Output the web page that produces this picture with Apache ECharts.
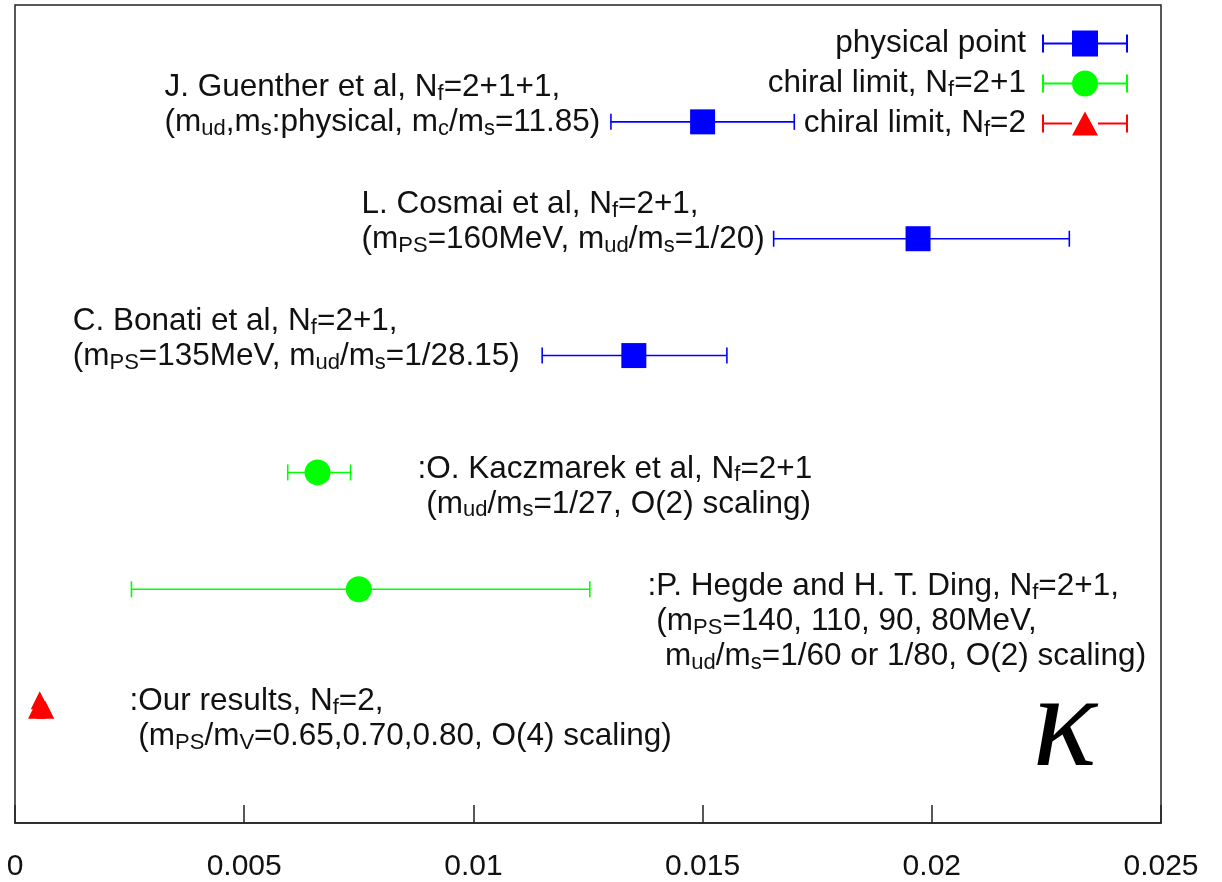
<!DOCTYPE html>
<html>
<head>
<meta charset="utf-8">
<script src="https://cdn.jsdelivr.net/npm/echarts@6/dist/echarts.min.js"></script>
<style>
  html, body { margin: 0; background: #fff; }
  #chart { width: 1222px; height: 882px; }
</style>
</head>
<body>
<div id="chart"></div>
<script>
// x axis ticks
const xTicks = [0, 0.005, 0.01, 0.015, 0.02, 0.025]

// physical point (blue squares): Guenther, Cosmai, Bonati
const physX = [0.0150, 0.0197, 0.0135]
const physLo = [0.0130, 0.01655, 0.0115]
const physHi = [0.0170, 0.0230, 0.01553]
const physRow = [6, 5, 4]

// chiral limit, Nf=2+1 (green circles): Kaczmarek, Hegde
const chi21X = [0.0066, 0.0075]
const chi21Lo = [0.00595, 0.00254]
const chi21Hi = [0.00732, 0.01254]
const chi21Row = [3, 2]

// chiral limit, Nf=2 (red triangles): our results
const chi2X = [0.00048, 0.00054, 0.00060, 0.00066]
const chi2Row = [0.97, 1.05, 1.0, 0.97]

// annotation texts
const noteX = [0.00326, 0.00756, 0.00126, 0.00878, 0.0138, 0.0025]
const noteRow = [6.142, 5.143, 4.145, 2.881, 1.724, 0.888]
const noteText = [
  'J. Guenther et al, N{s|f}=2+1+1,\n(m{s|ud},m{s|s}:physical, m{s|c}/m{s|s}=11.85)',
  'L. Cosmai et al, N{s|f}=2+1,\n(m{s|PS}=160MeV, m{s|ud}/m{s|s}=1/20)',
  'C. Bonati et al, N{s|f}=2+1,\n(m{s|PS}=135MeV, m{s|ud}/m{s|s}=1/28.15)',
  ':O. Kaczmarek et al, N{s|f}=2+1\n (m{s|ud}/m{s|s}=1/27, O(2) scaling)',
  ':P. Hegde and H. T. Ding, N{s|f}=2+1,\n (m{s|PS}=140, 110, 90, 80MeV,\n  m{s|ud}/m{s|s}=1/60 or 1/80, O(2) scaling)',
  ':Our results, N{s|f}=2,\n (m{s|PS}/m{s|V}=0.65,0.70,0.80, O(4) scaling)'
]

const seriesNames = ['physical point', 'chiral limit, Nf=2+1', 'chiral limit, Nf=2']
const BLUE = '#0000ff'
const GREEN = '#00ff00'
const RED = '#ff0000'
const FONT = '"Liberation Sans", Arial, sans-serif'
const TEXT = '#111'

const richSub = { s: { fontSize: 22, lineHeight: 17, verticalAlign: 'bottom', fontFamily: FONT, color: TEXT } }

// legend icons: error bar + marker, 86x26 box
const capL = 'M0 4h2v18h-2Z M2 12h28v2h-28Z '
const capR = ' M56 12h28v2h-28Z M84 4h2v18h-2Z'
const legendIcons = [
  'path://' + capL + 'M30 0h26v26h-26Z' + capR,
  'path://' + capL + 'M30 13A13 13 0 1 1 56 13A13 13 0 1 1 30 13Z' + capR,
  'path://' + capL + 'M30 25L43 1L56 25Z' + capR
]

const errorBar = color => (params, api) => {
  const y = api.value(2)
  const a = api.coord([api.value(0), y])
  const b = api.coord([api.value(1), y])
  const h = 8
  const style = { stroke: color, lineWidth: 1.6 }
  return {
    type: 'group',
    children: [
      { type: 'line', shape: { x1: a[0], y1: a[1], x2: b[0], y2: b[1] }, style },
      { type: 'line', shape: { x1: a[0], y1: a[1] - h, x2: a[0], y2: a[1] + h }, style },
      { type: 'line', shape: { x1: b[0], y1: b[1] - h, x2: b[0], y2: b[1] + h }, style }
    ]
  }
}

const chart = echarts.init(document.getElementById('chart'))

const noteData = noteText.map((t, i) => ({ value: [noteX[i], noteRow[i]], name: t }))
noteData.push({
  value: [0.0229, 0.8],
  name: 'κ',
  label: {
    position: 'inside',
    fontFamily: '"Liberation Serif", "DejaVu Serif", serif',
    fontStyle: 'italic',
    fontSize: 134,
    lineHeight: 134,
    color: '#000'
  }
})

const option = {
  backgroundColor: '#fff',
  animation: false,
  textStyle: { fontFamily: FONT },
  grid: {
    left: 15, top: 5, right: 61, bottom: 57,
    show: true, borderColor: '#222', borderWidth: 1.5
  },
  legend: {
    data: seriesNames.map((n, i) => ({ name: n, icon: legendIcons[i] })),
    orient: 'vertical',
    right: 89,
    top: 21,
    align: 'right',
    itemWidth: 86,
    itemHeight: 26,
    itemGap: 5,
    selectedMode: false,
    formatter: n => n.replace('Nf', 'N{s|f}'),
    textStyle: {
      fontFamily: FONT, fontSize: 31.5, lineHeight: 35, color: TEXT,
      padding: [0, 11, 0, 0],
      rich: richSub
    }
  },
  xAxis: {
    type: 'value',
    min: xTicks[0],
    max: xTicks[xTicks.length - 1],
    interval: 0.005,
    splitLine: { show: false },
    axisLine: { show: true, lineStyle: { color: '#222', width: 1.5 } },
    axisTick: { show: true, inside: true, length: 18, lineStyle: { color: '#222', width: 1.5 } },
    axisLabel: { fontSize: 30, margin: 29, color: TEXT, fontFamily: FONT, showMinLabel: true, showMaxLabel: true }
  },
  yAxis: {
    type: 'value', min: 0, max: 7, show: false
  },
  series: [
    {
      type: 'custom', name: 'phys-err',
      renderItem: errorBar(BLUE),
      encode: { x: [0, 1], y: 2 },
      data: physX.map((_, i) => [physLo[i], physHi[i], physRow[i]]),
      silent: true, z: 2
    },
    {
      type: 'custom', name: 'chi21-err',
      renderItem: errorBar(GREEN),
      encode: { x: [0, 1], y: 2 },
      data: chi21X.map((_, i) => [chi21Lo[i], chi21Hi[i], chi21Row[i]]),
      silent: true, z: 2
    },
    {
      type: 'scatter', name: seriesNames[0],
      symbol: 'rect', symbolSize: 25,
      itemStyle: { color: BLUE, opacity: 1 },
      data: physX.map((x, i) => [x, physRow[i]]),
      z: 3
    },
    {
      type: 'scatter', name: seriesNames[1],
      symbol: 'circle', symbolSize: 26,
      itemStyle: { color: GREEN, opacity: 1 },
      data: chi21X.map((x, i) => [x, chi21Row[i]]),
      z: 3
    },
    {
      type: 'scatter', name: seriesNames[2],
      symbol: 'triangle', symbolSize: 18,
      itemStyle: { color: RED, opacity: 1 },
      data: chi2X.map((x, i) => [x, chi2Row[i]]),
      z: 3
    },
    {
      type: 'scatter', name: 'notes',
      symbolSize: 0,
      silent: true,
      itemStyle: { opacity: 1 },
      label: {
        show: true,
        position: 'right',
        distance: 0,
        formatter: p => p.name,
        fontFamily: FONT,
        fontSize: 31.5,
        lineHeight: 35,
        color: TEXT,
        rich: richSub
      },
      data: noteData,
      z: 4
    }
  ]
}

chart.setOption(option)
window.addEventListener('resize', () => chart.resize())
</script>
</body>
</html>
